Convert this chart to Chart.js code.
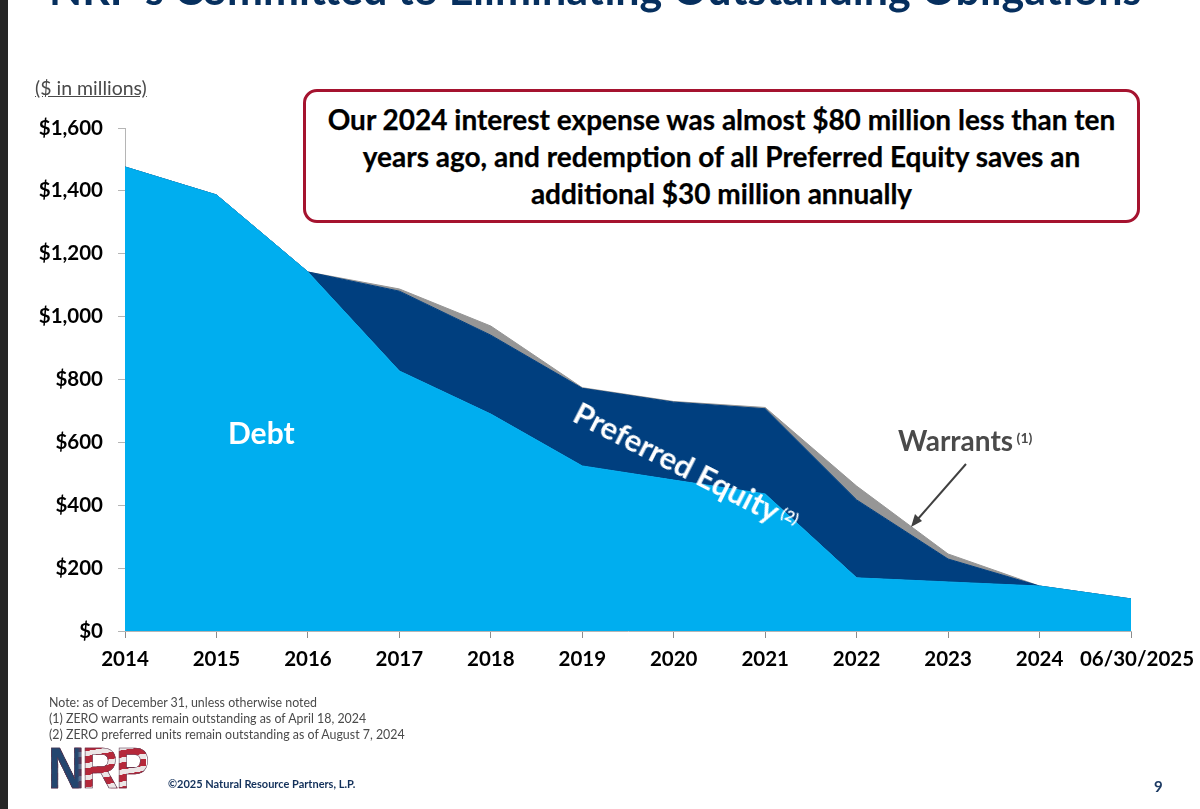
<!DOCTYPE html>
<html><head><meta charset="utf-8">
<script src="https://cdn.jsdelivr.net/npm/chart.js@4"></script>
<style>
html,body{margin:0;padding:0;background:#fff;overflow:hidden}
#wrap{position:relative;width:1200px;height:809px;overflow:hidden;font-family:Lato,"Open Sans",sans-serif}
canvas{position:absolute;left:0;top:0}
.t{position:absolute;white-space:nowrap}
#bar{position:absolute;left:0;top:0;width:8px;height:809px;background:#262626}
sup{font-size:55%;vertical-align:baseline;position:relative;top:-.55em}
</style></head><body>
<div id="wrap">
<canvas id="c" width="1200" height="809"></canvas>
<div id="bar"></div>
<div class="t" style="left:49px;top:-37px;font-size:43px;font-weight:700;color:#062f5e">NRP’s Committed to Eliminating Outstanding Obligations</div>
<div class="t" style="left:35px;top:76px;font-size:19.5px;color:#4a4a4a;text-decoration:underline">($ in millions)</div>
<div class="t" style="left:303px;top:89px;width:831px;border:3px solid #a5132f;border-radius:14px;background:#fff;text-align:center;font-size:28px;font-weight:700;line-height:37px;color:#000;white-space:normal;padding-top:9px;height:119px;-webkit-text-stroke:.25px #000">Our 2024 interest expense was almost $80 million less than ten<br>years ago, and redemption of all Preferred Equity saves an<br>additional $30 million annually</div>
<div class="t" style="left:228px;top:414px;font-size:30px;font-weight:700;color:#fff">Debt</div>
<div class="t" style="left:585px;top:393px;font-size:31px;font-weight:700;color:#fff;transform:rotate(27deg);transform-origin:left top">Preferred Equity<sup style="font-weight:700;font-size:50%"> (2)</sup></div>
<div class="t" style="left:898px;top:423px;font-size:28px;font-weight:700;color:#4a4a4a">Warrants<sup style="font-weight:700;font-size:50%"> (1)</sup></div>
<svg style="position:absolute;left:0;top:0" width="1200" height="809"><line x1="966" y1="464" x2="917" y2="520" stroke="#404040" stroke-width="2"/><polygon points="911,527 915,514 922,521" fill="#404040"/></svg>
<div class="t" style="left:49px;top:695px;font-size:12.4px;line-height:16px;color:#4a4a4a">Note: as of December 31, unless otherwise noted<br>(1) ZERO warrants remain outstanding as of April 18, 2024<br>(2) ZERO preferred units remain outstanding as of August 7, 2024</div>
<div class="t" style="left:48px;top:738px;font-family:'Liberation Sans';font-size:58px;line-height:60px;font-weight:700;letter-spacing:-3px;-webkit-text-stroke:.6px #55324a;background:linear-gradient(90deg,#24466f 0 30%,transparent 38%),repeating-linear-gradient(172deg,#b5283a 0 7px,#ece6e6 7px 12px);-webkit-background-clip:text;background-clip:text;color:transparent;transform:scaleX(.87);transform-origin:left top">NRP</div>
<div class="t" style="left:168px;top:777px;font-size:11px;font-weight:700;color:#12305a">©2025 Natural Resource Partners, L.P.</div>
<div class="t" style="left:1154px;top:777px;font-size:15px;font-weight:700;color:#1c3a63">9</div>
</div>
<script>
const categories=["2014","2015","2016","2017","2018","2019","2020","2021","2022","2023","2024","06/30/2025"];
const debt=[1476,1387,1142,827,690,525,480,436,169,156,143,102];
const preferred=[0,0,0,254,251,247,248,271,248,73,0,0];
const warrants=[0,0,0,7,29,2,2,4,44,16,0,0];
const yTicks=[0,200,400,600,800,1000,1200,1400,1600];
const shiftLastLabel={id:'shiftLastLabel',afterLayout(chart){
  const s=chart.scales.x,items=s.getLabelItems(chart.chartArea),last=items[items.length-1];
  if(last)last.options.translation[0]+=6;
}};
new Chart(document.getElementById('c'),{
  type:'line',
  plugins:[shiftLastLabel],
  data:{labels:categories,datasets:[
    {label:'Debt',data:debt,backgroundColor:'#00aeef',borderColor:'#00aeef',borderWidth:1,fill:'origin'},
    {label:'Preferred Equity',data:preferred,backgroundColor:'#003f7f',borderColor:'#003f7f',borderWidth:1,fill:'-1'},
    {label:'Warrants',data:warrants,backgroundColor:'#969696',borderColor:'#969696',borderWidth:1,fill:'-1'}
  ]},
  options:{
    responsive:false,animation:false,
    layout:{padding:{top:128,right:69,left:0,bottom:0}},
    elements:{point:{radius:0},line:{tension:0}},
    plugins:{legend:{display:false},tooltip:{enabled:false},title:{display:false}},
    scales:{
      x:{stacked:true,offset:false,
        afterFit(s){s.height=178;},
        grid:{drawOnChartArea:false,drawTicks:true,tickLength:7,color:'#8c8c8c'},
        border:{color:'#b5b5b5'},
        ticks:{autoSkip:false,maxRotation:0,color:'#000',padding:9,font:{family:'Lato',size:20.5,weight:'700'}}},
      y:{stacked:true,min:0,max:1600,
        afterFit(s){s.width=125;},
        afterBuildTicks(s){s.ticks=yTicks.map(v=>({value:v}));},
        grid:{drawOnChartArea:false,drawTicks:true,tickLength:7,color:'#b5b5b5'},
        border:{color:'#b5b5b5'},
        ticks:{color:'#000',padding:15,font:{family:'Lato',size:20.5,weight:'700'},callback:v=>'$'+v.toLocaleString('en-US')}}
    }
  }
});
</script>
</body></html>
